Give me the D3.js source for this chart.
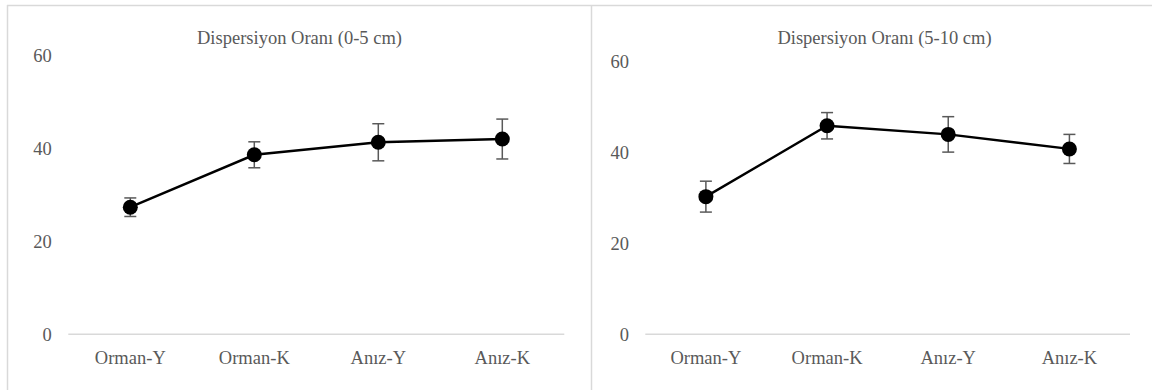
<!DOCTYPE html>
<html>
<head>
<meta charset="utf-8">
<script src="https://cdn.jsdelivr.net/npm/d3@7"></script>
<style>
  html, body { margin: 0; padding: 0; background: #fff; }
  svg { display: block; }
</style>
</head>
<body>
<svg id="chart"></svg>
<script>
// data
const categories = ['Orman-Y', 'Orman-K', 'Anız-Y', 'Anız-K'];
const yTicks = [0, 20, 40, 60];
const titles = ['Dispersiyon Oranı (0-5 cm)', 'Dispersiyon Oranı (5-10 cm)'];
const values0to5 = [27.4, 38.7, 41.4, 42.1];
const errors0to5 = [2.0, 2.8, 4.0, 4.3];
const values5to10 = [30.3, 45.9, 44.0, 40.8];
const errors5to10 = [3.4, 2.9, 3.9, 3.2];

const width = 1152;
const height = 390;
const fontSize = 18.5;
const fontFamily = "'Liberation Serif', 'Times New Roman', Times, 'DejaVu Serif', serif";
const textColor = '#595959';

const svg = d3.select('#chart')
  .attr('width', width)
  .attr('height', height);

// panel frames (light gray borders like the spreadsheet chart areas)
const borderColor = '#d9d9d9';
svg.append('line')
  .attr('x1', 7).attr('y1', 5.5).attr('x2', width).attr('y2', 5.5)
  .attr('stroke', borderColor).attr('stroke-width', 1.5);
[7.5, 591.5].forEach(x => {
  svg.append('line')
    .attr('x1', x).attr('y1', 5).attr('x2', x).attr('y2', height)
    .attr('stroke', borderColor).attr('stroke-width', 1.5);
});

const panels = [
  { title: titles[0], values: values0to5, errors: errors0to5,
    titleX: 299.5, x0: 68.3, x1: 564.3, yTop: 56, yBottom: 334.3, labelX: 51.7 },
  { title: titles[1], values: values5to10, errors: errors5to10,
    titleX: 884.5, x0: 645.3, x1: 1130, yTop: 61.7, yBottom: 334.3, labelX: 629 }
];

const addText = (sel) => sel
  .attr('font-family', fontFamily)
  .attr('font-size', fontSize)
  .attr('fill', textColor);

panels.forEach(p => {
  const g = svg.append('g');

  const x = d3.scaleBand()
    .domain(categories)
    .range([p.x0, p.x1]);

  const y = d3.scaleLinear()
    .domain([0, 60])
    .range([p.yBottom, p.yTop]);

  // title
  g.append('text')
    .call(addText)
    .attr('x', p.titleX)
    .attr('y', 44)
    .attr('text-anchor', 'middle')
    .text(p.title);

  // y tick labels (no gridlines, no axis line)
  g.selectAll('.ytick')
    .data(yTicks)
    .enter().append('text')
    .attr('class', 'ytick')
    .call(addText)
    .attr('x', p.labelX)
    .attr('y', d => y(d))
    .attr('dy', '0.35em')
    .attr('text-anchor', 'end')
    .text(d => d);

  // x axis line
  g.append('line')
    .attr('x1', p.x0).attr('x2', p.x1)
    .attr('y1', y(0)).attr('y2', y(0))
    .attr('stroke', borderColor)
    .attr('stroke-width', 1.5);

  // category labels
  g.selectAll('.xlabel')
    .data(categories)
    .enter().append('text')
    .attr('class', 'xlabel')
    .call(addText)
    .attr('x', d => x(d) + x.bandwidth() / 2)
    .attr('y', 364)
    .attr('text-anchor', 'middle')
    .text(d => d);

  const cx = i => x(categories[i]) + x.bandwidth() / 2;

  // error bars
  const capHalf = 6;
  p.values.forEach((v, i) => {
    const e = p.errors[i];
    const xc = cx(i);
    g.append('line')
      .attr('x1', xc).attr('x2', xc)
      .attr('y1', y(v - e)).attr('y2', y(v + e))
      .attr('stroke', '#595959').attr('stroke-width', 1.5);
    [v - e, v + e].forEach(t => {
      g.append('line')
        .attr('x1', xc - capHalf).attr('x2', xc + capHalf)
        .attr('y1', y(t)).attr('y2', y(t))
        .attr('stroke', '#595959').attr('stroke-width', 1.5);
    });
  });

  // the line
  const line = d3.line()
    .x((d, i) => cx(i))
    .y(d => y(d));

  g.append('path')
    .datum(p.values)
    .attr('d', line)
    .attr('fill', 'none')
    .attr('stroke', '#000')
    .attr('stroke-width', 2.4);

  // markers on top
  g.selectAll('.dot')
    .data(p.values)
    .enter().append('circle')
    .attr('class', 'dot')
    .attr('cx', (d, i) => cx(i))
    .attr('cy', d => y(d))
    .attr('r', 7.5)
    .attr('fill', '#000');
});
</script>
</body>
</html>
